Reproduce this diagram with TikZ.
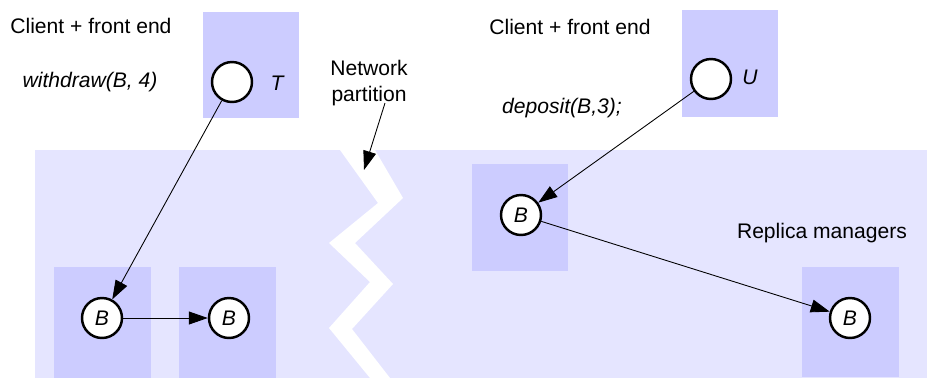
\documentclass[tikz,border=0pt]{standalone}
\usepackage{fontspec}
\setmainfont{Liberation Sans}
\usepackage{tikz}
\usetikzlibrary{arrows.meta}
\definecolor{netbg}{RGB}{229,229,255}
\definecolor{hostbg}{RGB}{204,204,255}

\begin{document}
\begin{tikzpicture}[
    x=0.02cm, y=-0.02cm,
    every node/.style={font=\fontsize{12}{14.5}\selectfont},
    proc/.style={circle, draw, line width=1.4pt, fill=white,
      minimum size=0.8cm, inner sep=0pt, font=\fontsize{12}{14.5}\selectfont\itshape},
    msg/.style={-{Triangle[length=3.8mm,width=2.6mm]}, line width=0.5pt},
    lbl/.style={font=\fontsize{12}{14.5}\selectfont\itshape}
]
\useasboundingbox (0,0) rectangle (929,380);

% network and the partition
\fill[netbg] (35,150) rectangle (927,378);
\fill[white] (340,150) -- (378,203) -- (329,243) -- (370,282) -- (329,328)
  -- (370,378) -- (390,378) -- (352,329) -- (393,284) -- (355,243)
  -- (403,198) -- (375,150) -- cycle;

% hosts
\fill[hostbg] (203,12) rectangle (299,118);
\fill[hostbg] (682,10) rectangle (778,117);
\fill[hostbg] (472,164) rectangle (568,271);
\fill[hostbg] (54,267) rectangle (151,378);
\fill[hostbg] (179,267) rectangle (276,378);
\fill[hostbg] (802,267) rectangle (899,377);

% processes
\node[proc] (T) at (232,82) {};
\node[proc] (U) at (711,79) {};
\node[proc] (Bm) at (521,215) {B};
\node[proc] (Bl) at (102,318) {B};
\node[proc] (Bk) at (229,318) {B};
\node[proc] (Br) at (850,318) {B};

\node[lbl] (tname) at (277,83) {T};
\node[lbl] (uname) at (750,77) {U};

% texts
\node[anchor=west, inner sep=0pt] (cfe1) at (10,26) {Client + front end};
\node[anchor=west, inner sep=0pt] (cfe2) at (489,27) {Client + front end};
\node[lbl] (wd) at (90,82) {withdraw(B, 4)};
\node[lbl] (dp) at (562,108) {deposit(B,3);};
\node (rm) at (822,233) {Replica managers};
\node[align=center, inner sep=0pt] (part) at (369,83) {Network\\partition};

% messages
\draw[msg] (T) -- (Bl);
\draw[msg] (Bl) -- (Bk);
\draw[msg] (U) -- (Bm);
\draw[msg] (Bm) -- (Br);

\coordinate (np) at (385,103);
\coordinate (cut) at (364,170);
\draw[msg] (np) -- (cut);

\end{tikzpicture}
\end{document}
